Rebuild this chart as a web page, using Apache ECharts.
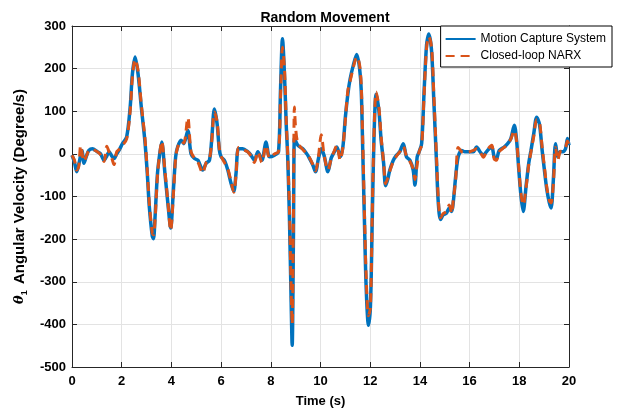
<!DOCTYPE html>
<html lang="en">

<head>
    <meta charset="UTF-8">
    <title>Random Movement</title>
    <style>
        * {
            padding: 0;
            margin: 0;
        }
    </style>
</head>

<body>
    <div id="chart" style="width: 619px; height: 413px;"></div>
    <script src="https://cdn.jsdelivr.net/npm/echarts@6/dist/echarts.min.js"></script>
    <script>
        let mychart = echarts.init(document.getElementById('chart'))

        // time (s)
        const time = [
            0.00, 0.10, 0.19, 0.27, 0.35, 0.40, 0.48, 0.58, 0.68, 0.82,
            1.02, 1.15, 1.29, 1.40, 1.49, 1.60, 1.69, 1.80, 1.89, 2.03,
            2.20, 2.34, 2.43, 2.54, 2.66, 2.79, 2.93, 3.03, 3.11, 3.23,
            3.28, 3.34, 3.44, 3.53, 3.61, 3.74, 3.87, 3.97, 4.08, 4.17,
            4.25, 4.39, 4.50, 4.66, 4.79, 4.93, 5.07, 5.26, 5.40, 5.53,
            5.62, 5.73, 5.84, 5.93, 6.00, 6.13, 6.27, 6.40, 6.51, 6.60,
            6.70, 6.87, 7.07, 7.20, 7.34, 7.48, 7.64, 7.81, 7.95, 8.15,
            8.31, 8.39, 8.47, 8.55, 8.62, 8.68, 8.75, 8.82, 8.86, 8.91,
            8.95, 9.00, 9.09, 9.29, 9.45, 9.55, 9.69, 9.80, 9.92, 10.03,
            10.15, 10.30, 10.43, 10.56, 10.66, 10.79, 10.90, 11.00, 11.10, 11.19,
            11.33, 11.46, 11.57, 11.64, 11.70, 11.77, 11.84, 11.93, 12.01, 12.08,
            12.15, 12.24, 12.35, 12.44, 12.54, 12.62, 12.70, 12.79, 12.93, 13.06,
            13.19, 13.33, 13.46, 13.60, 13.73, 13.80, 13.89, 13.97, 14.07, 14.17,
            14.27, 14.36, 14.47, 14.56, 14.67, 14.74, 14.83, 14.94, 15.07, 15.18,
            15.28, 15.34, 15.44, 15.54, 15.68, 15.81, 16.00, 16.15, 16.28, 16.42,
            16.55, 16.72, 16.89, 16.99, 17.08, 17.19, 17.39, 17.53, 17.66, 17.80,
            17.89, 17.97, 18.07, 18.16, 18.27, 18.38, 18.47, 18.58, 18.70, 18.81,
            18.92, 19.01, 19.11, 19.21, 19.28, 19.37, 19.46, 19.55, 19.64, 19.75,
            19.86, 19.94, 20.00
        ]

        // Motion Capture System (deg/s)
        const mocap = [
            -3, -20, -42, -25, -3, 8, -22, -5, 8, 12,
            5, 0, -15, -5, 5, -5, -11, 0, 8, 24,
            40, 109, 187, 227, 187, 109, 32, -46, -123, -193,
            -199, -150, -46, 0, 28, -46, -123, -174, -85, -7,
            16, 32, 24, 55, 0, -11, -15, -38, -22, -15,
            32, 105, 70, 9, -7, -15, -38, -69, -88, -46,
            12, 12, 5, -3, -15, 5, -15, 28, -7, -3,
            5, 148, 270, 187, 70, -7, -150, -350, -449, -200,
            36, 30, 20, 12, 0, -10, -26, -42, -10, 12,
            -5, -42, -10, 5, 16, -7, 16, 86, 140, 175,
            210, 233, 202, 148, 8, -162, -317, -402, -356, -162,
            32, 140, 101, 32, -22, -75, -61, -38, -15, -3,
            5, 24, -7, -15, -38, -73, -7, 5, 24, 148,
            257, 281, 241, 125, -22, -115, -154, -143, -139, -127,
            -135, -115, -53, -7, 8, 5, 5, 5, 16, 5,
            -3, 8, 16, -7, -11, 8, 16, 24, 36, 67,
            32, -30, -100, -135, -77, -22, 8, 47, 86, 70,
            8, -38, -85, -115, -127, -61, 24, -7, 5, 5,
            12, 36, 20
        ]

        // Closed-loop NARX (deg/s)
        const narx = [
            -3, -15, -38, -30, 20, 5, -18, -5, 8, 10,
            5, -2, -18, 18, 5, -10, -25, 5, 10, 20,
            35, 100, 180, 222, 195, 115, 40, -40, -115, -185,
            -190, -158, -50, 0, 30, -40, -120, -180, -95, -10,
            15, 30, 25, 85, 5, -10, -20, -45, -20, -12,
            28, 98, 75, 12, -5, -20, -35, -65, -90, -50,
            15, 10, 5, -5, -20, 5, -20, 20, -10, 0,
            5, 130, 250, 200, 80, 0, -130, -320, -400, -150,
            110, 60, 25, 10, 0, -8, -25, -40, -5, 45,
            -5, -38, -12, 8, 20, -15, 15, 80, 148, 170,
            205, 228, 210, 160, 30, -140, -290, -380, -360, -150,
            40, 145, 110, 40, -20, -70, -58, -40, -18, -5,
            5, 18, -5, -18, -35, -60, -25, 5, 20, 140,
            250, 275, 250, 140, -10, -105, -150, -140, -135, -120,
            -140, -110, -60, 15, 5, 3, 5, 8, 12, 5,
            -8, 10, 20, -12, -15, 5, 15, 22, 35, 55,
            30, -25, -95, -120, -80, -25, 5, 40, 80, 75,
            15, -30, -80, -110, -115, -70, 15, -15, 5, 8,
            15, 30, 22
        ]

        const xRange = [0, 20, 2]
        const yRange = [-500, 300, 100]

        const font = 'Liberation Sans'

        const labelStyle = {
            color: '#000',
            fontFamily: font,
            fontWeight: 'bold',
            fontSize: 13,
        }

        // shared axis look: black box, ticks inside, light grid
        function xAx(pos, showLabel) {
            return {
                type: 'value',
                position: pos,
                min: xRange[0],
                max: xRange[1],
                interval: xRange[2],
                axisLine: { show: true, onZero: false, lineStyle: { color: '#262626', width: 1 } },
                axisTick: { show: true, inside: true, length: 5, lineStyle: { color: '#262626' } },
                axisLabel: Object.assign({ show: showLabel, margin: 8 }, labelStyle),
                splitLine: { show: showLabel, lineStyle: { color: '#e3e3e3', width: 1 } },
            }
        }

        function yAx(pos, showLabel) {
            return {
                type: 'value',
                position: pos,
                min: yRange[0],
                max: yRange[1],
                interval: yRange[2],
                axisLine: { show: true, onZero: false, lineStyle: { color: '#262626', width: 1 } },
                axisTick: { show: true, inside: true, length: 5, lineStyle: { color: '#262626' } },
                axisLabel: Object.assign({ show: showLabel, margin: 6 }, labelStyle),
                splitLine: { show: showLabel, lineStyle: { color: '#e3e3e3', width: 1 } },
            }
        }

        let xMain = xAx('bottom', true)
        xMain.name = 'Time (s)'
        xMain.nameLocation = 'middle'
        xMain.nameGap = 28
        xMain.nameTextStyle = labelStyle

        let yMain = yAx('left', true)
        yMain.name = '{i|θ}{s|1} Angular Velocity (Degree/s)'
        yMain.nameLocation = 'middle'
        yMain.nameGap = 40
        yMain.nameTextStyle = {
            color: '#000',
            fontFamily: font,
            fontWeight: 'bold',
            fontSize: 15,
            rich: {
                i: { fontFamily: 'DejaVu Serif', fontStyle: 'italic', fontSize: 13, color: '#000' },
                s: { fontFamily: font, fontSize: 9, color: '#000', padding: [9, 2, 0, 0] },
            }
        }

        let options = {
            animation: false,
            backgroundColor: '#fff',
            title: {
                text: 'Random Movement',
                left: 320,
                textAlign: 'center',
                top: 6,
                textStyle: { color: '#000', fontFamily: font, fontWeight: 'bold', fontSize: 14 },
            },
            grid: {
                left: 72,
                right: 50,
                top: 26,
                bottom: 43,
            },
            legend: {
                orient: 'vertical',
                right: 7,
                top: 26,
                backgroundColor: '#fff',
                borderColor: '#000',
                borderWidth: 1,
                padding: [7, 6, 5, 4],
                itemGap: 5,
                itemWidth: 30,
                itemHeight: 12,
                itemStyle: { opacity: 0 },
                textStyle: { color: '#000', fontFamily: font, fontSize: 12 },
                data: ['Motion Capture System', 'Closed-loop NARX'],
            },
            xAxis: [xMain, xAx('top', false)],
            yAxis: [yMain, yAx('right', false)],
            series: [{
                name: 'Motion Capture System',
                type: 'line',
                symbol: 'none',
                smooth: 0.3,
                lineStyle: { color: '#0072BD', width: 3.5 },
                itemStyle: { color: '#0072BD' },
                data: time.map((t, i) => [t, mocap[i]]),
            }, {
                name: 'Closed-loop NARX',
                type: 'line',
                symbol: 'none',
                smooth: 0.3,
                lineStyle: { color: '#D95319', width: 3, type: [9, 6] },
                itemStyle: { color: '#D95319' },
                data: time.map((t, i) => [t, narx[i]]),
            }]
        }

        mychart.setOption(options);
    </script>
</body>

</html>
